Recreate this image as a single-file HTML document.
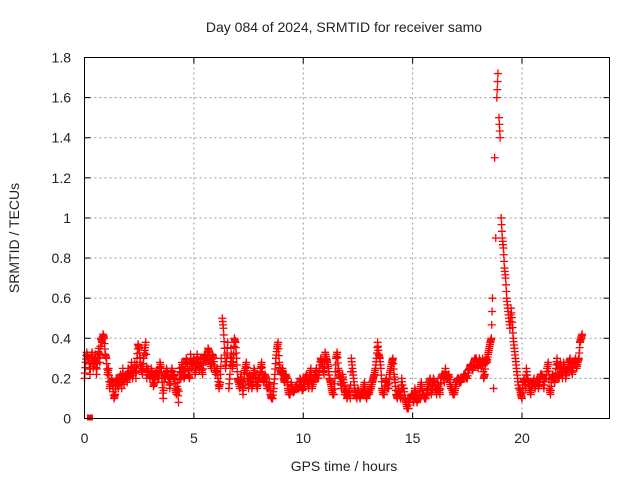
<!DOCTYPE html>
<html><head><meta charset="utf-8"><style>
body{margin:0;background:#fff;}
svg text{font-family:"Liberation Sans",sans-serif;fill:#222;}
</style></head><body>
<svg id="chart" width="640" height="480" viewBox="0 0 640 480">
<text x="344" y="32" font-size="14" text-anchor="middle">Day 084 of 2024, SRMTID for receiver samo</text>
<g id="grid"></g>
<g id="ticks"></g>
<g id="marks"></g>
<rect x="84.5" y="57.5" width="525" height="361" fill="none" stroke="#000" stroke-width="1"/>
<text x="344" y="471" font-size="14" text-anchor="middle">GPS time / hours</text>
<text x="0" y="0" font-size="14" text-anchor="middle" transform="translate(19,238) rotate(-90)">SRMTID / TECUs</text>
</svg>
<script>
const xTicks=[0,5,10,15,20];
const yTicks=[0,0.2,0.4,0.6,0.8,1,1.2,1.4,1.6,1.8];
const yTickLabels=["0","0.2","0.4","0.6","0.8","1","1.2","1.4","1.6","1.8"];
const srmtidA=[0.2,0.33,0.3,0.3,0.25,0.32,0.3,0.28,0.38,0.4,
0.3,0.25,0.18,0.15,0.12,0.18,0.2,0.15,0.17,0.22,
0.25,0.22,0.2,0.28,0.3,0.35,0.25,0.3,0.38,0.25,
0.2,0.22,0.18,0.24,0.2,0.25,0.1,0.2,0.22,0.15,
0.25,0.22,0.12,0.08,0.2,0.25,0.22,0.28,0.2,0.25,
0.3,0.25,0.28,0.3,0.22,0.32,0.3,0.33,0.25,0.3,
0.22,0.2,0.18,0.5,0.35,0.3,0.15,0.35,0.28,0.38,
0.2,0.15,0.18,0.22,0.28,0.15,0.2,0.18,0.22,0.15,
0.2,0.28,0.18,0.2,0.15,0.12,0.1,0.22,0.35,0.28,
0.22,0.2,0.22,0.15,0.12,0.15,0.14,0.16,0.15,0.18,
0.15,0.2,0.18,0.22,0.15,0.2,0.25,0.2,0.3,0.25,
0.33,0.28,0.2,0.15,0.12,0.3,0.25,0.2,0.22,0.12,
0.1,0.15,0.3,0.2,0.12,0.15,0.1,0.12,0.18,0.1,
0.12,0.15,0.2,0.25,0.38,0.3,0.15,0.12,0.2,0.15,
0.25,0.3,0.18,0.1,0.12,0.2,0.15,0.08,0.05,0.1,
0.12,0.15,0.08,0.1,0.18,0.12,0.1,0.15,0.2,0.15,
0.18,0.12,0.15,0.2,0.22,0.25,0.2,0.18,0.15,0.12,
0.18,0.2,0.18,0.2,0.22,0.2,0.25,0.26,0.28,0.3,
0.25,0.28,0.3,0.22,0.28,0.35,0.4,0.15,0.9,1.72,
1.4,0.9,0.75,0.6,0.5,0.55,0.4,0.3,0.2,0.15,
0.1,0.2,0.25,0.18,0.12,0.17,0.15,0.2,0.18,0.22,
0.15,0.2,0.28,0.12,0.22,0.18,0.3,0.2,0.25,0.28,
0.2,0.25,0.3,0.22,0.28,0.25,0.3,0.4];
const srmtidB=[0.28,0.3,0.22,0.33,0.28,0.22,0.35,0.4,0.42,0.32,
0.22,0.15,0.2,0.1,0.2,0.15,0.22,0.25,0.2,0.18,
0.2,0.28,0.24,0.2,0.37,0.28,0.22,0.34,0.2,0.22,
0.25,0.16,0.22,0.2,0.28,0.18,0.22,0.25,0.2,0.22,
0.2,0.15,0.18,0.25,0.28,0.2,0.3,0.22,0.32,0.28,
0.22,0.32,0.24,0.25,0.3,0.28,0.35,0.28,0.32,0.25,
0.25,0.15,0.3,0.45,0.25,0.38,0.22,0.25,0.4,0.3,
0.18,0.22,0.12,0.25,0.2,0.22,0.15,0.25,0.18,0.2,
0.25,0.2,0.22,0.15,0.18,0.1,0.15,0.3,0.38,0.24,
0.25,0.18,0.2,0.12,0.18,0.13,0.16,0.15,0.2,0.14,
0.18,0.22,0.15,0.25,0.18,0.22,0.2,0.25,0.28,0.22,
0.3,0.25,0.18,0.12,0.2,0.33,0.22,0.15,0.18,0.15,
0.12,0.1,0.25,0.15,0.1,0.12,0.13,0.15,0.12,0.14,
0.15,0.18,0.22,0.3,0.32,0.25,0.12,0.18,0.15,0.22,
0.28,0.22,0.12,0.15,0.1,0.15,0.1,0.05,0.1,0.12,
0.08,0.12,0.1,0.15,0.12,0.1,0.14,0.18,0.12,0.2,
0.15,0.18,0.12,0.22,0.18,0.2,0.22,0.15,0.12,0.15,
0.2,0.18,0.2,0.22,0.2,0.24,0.27,0.24,0.3,0.27,
0.3,0.25,0.2,0.3,0.32,0.38,0.6,1.3,1.6,1.5,
1.0,0.85,0.7,0.55,0.45,0.48,0.35,0.25,0.15,0.12,
0.18,0.15,0.2,0.15,0.18,0.2,0.18,0.15,0.22,0.2,
0.2,0.25,0.15,0.18,0.2,0.25,0.22,0.28,0.2,0.25,
0.24,0.28,0.25,0.27,0.3,0.28,0.38,0.42];
const X0=84.5,X1=609.5,XMAX=24,Y0=418.5,Y1=57.5,YMAX=1.8;
const sx=v=>X0+(X1-X0)*v/XMAX;
const sy=v=>Y0-(Y0-Y1)*v/YMAX;
const NS="http://www.w3.org/2000/svg";
const grid=document.getElementById('grid'),ticks=document.getElementById('ticks'),marks=document.getElementById('marks');
function mk(tag,at,parent){const e=document.createElementNS(NS,tag);for(const k in at)e.setAttribute(k,at[k]);parent.appendChild(e);return e;}
xTicks.forEach(t=>{const x=sx(t);
 if(t>0){const g=mk('line',{x1:x,x2:x,y1:Y1,y2:Y0,stroke:'#999','stroke-dasharray':'2,3'},grid);
 
 }
 const l=mk('text',{x:x,y:443,'font-size':14,'text-anchor':'middle'},ticks);l.textContent=t;
 
 
 mk('line',{x1:x,x2:x,y1:Y0,y2:Y0-6,stroke:'#000'},ticks);mk('line',{x1:x,x2:x,y1:Y1,y2:Y1+6,stroke:'#000'},ticks);});
yTicks.forEach((t,i)=>{const y=sy(t);
 if(t>0&&t<1.8){const g=mk('line',{x1:X0,x2:X1,y1:y,y2:y,stroke:'#999','stroke-dasharray':'2,3'},grid);
 
 }
 const l=mk('text',{x:71,y:y+5,'font-size':14,'text-anchor':'end'},ticks);l.textContent=yTickLabels[i];
 
 
 mk('line',{x1:X0,x2:X0+6,y1:y,y2:y,stroke:'#000'},ticks);mk('line',{x1:X1,x2:X1-6,y1:y,y2:y,stroke:'#000'},ticks);});
function plus(t,v){const x=sx(t),y=sy(v);
 const p=mk('path',{d:`M${x-4} ${y}h8M${x} ${y-4}v8`,stroke:'#f00','stroke-width':1.3,fill:'none'},marks);
 
 }
// merged sequence in time order
const seq=[];
srmtidA.forEach((v,i)=>{seq.push([i*0.1,v]);if(i<srmtidB.length)seq.push([i*0.1+0.05,srmtidB[i]]);});
seq.forEach((p,i)=>{plus(p[0],p[1]);
 const q=seq[i+1];
 if(q&&Math.abs(q[1]-p[1])<0.2){
  for(let k=1;k<=2;k++){const f=k/3;plus(p[0]+(q[0]-p[0])*f,p[1]+(q[1]-p[1])*f);}
 }});
const sq=mk('rect',{x:sx(0.25)-3,y:Y0-4,width:6,height:6,fill:'#f00'},marks);


</script>
</body></html>
